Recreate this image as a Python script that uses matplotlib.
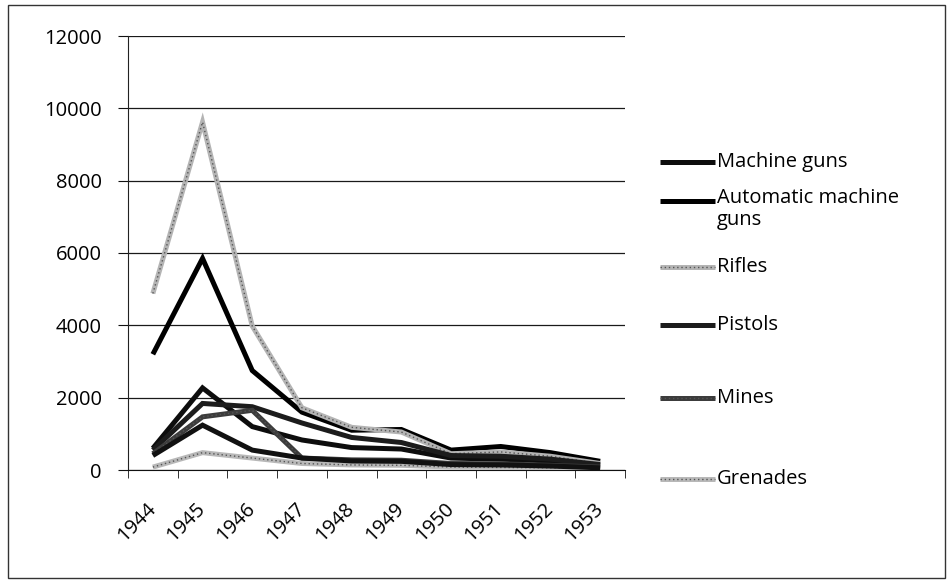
import numpy as np
import matplotlib.pyplot as plt
from matplotlib.lines import Line2D
from matplotlib.patches import Rectangle

# values
years = ['1944', '1945', '1946', '1947', '1948', '1949', '1950', '1951', '1952', '1953']
machine_guns = [600, 2270, 1200, 830, 620, 580, 330, 300, 250, 130]
automatic_mg = [3200, 5850, 2750, 1600, 1100, 1120, 550, 650, 480, 240]
rifles = [4880, 9620, 3980, 1720, 1180, 1050, 450, 500, 380, 180]
pistols = [550, 1840, 1750, 1300, 900, 760, 400, 380, 300, 150]
mines = [450, 1470, 1650, 330, 280, 270, 180, 170, 130, 80]
grenades = [80, 480, 330, 180, 140, 130, 80, 70, 60, 40]
# seventh series is drawn but has no legend entry in the original
unlabeled = [400, 1240, 550, 330, 250, 240, 150, 140, 110, 60]

legend_names = ['Machine guns', 'Automatic machine\nguns', 'Rifles', 'Pistols', 'Mines', 'Grenades']

plt.rcParams['font.family'] = ['Open Sans', 'DejaVu Sans']

W, H = 949, 582
fig = plt.figure(figsize=(W / 100, H / 100), dpi=100)
ax = fig.add_axes([128 / W, 1 - 470 / H, (625 - 128) / W, (470 - 36) / H])

x = np.arange(len(years))

# (values, base colour, overlay dots?)
styles = [
    (machine_guns, '#0d0d0d', False),
    (automatic_mg, '#000000', False),
    (rifles, '#b4b4b4', True),
    (pistols, '#1c1c1c', False),
    (mines, '#3c3c3c', True),
    (grenades, '#b8b8b8', True),
    (unlabeled, '#111111', False),
]

lw = 3.6
for vals, col, dots in styles:
    ax.plot(x, vals, color=col, lw=lw, solid_joinstyle='miter', solid_capstyle='butt', zorder=3)
    if dots:
        ax.plot(x, vals, color='#555555', lw=1.0, ls=(0, (1, 2)), zorder=3)

ax.set_xlim(-0.5, len(years) - 0.5)
ax.set_ylim(0, 12000)
ax.set_yticks(range(0, 12001, 2000))
ax.yaxis.grid(True, color='#1a1a1a', lw=0.9)
ax.set_axisbelow(True)

ax.set_xticks(x)
ax.set_xticklabels(years, rotation=45, ha='right', va='center', rotation_mode='anchor')
ax.set_xticks(np.arange(-0.5, len(years), 1), minor=True)
ax.tick_params(axis='x', which='major', length=0, pad=26, labelsize=14.5)
ax.tick_params(axis='x', which='minor', length=6, direction='out', color='#111111')
ax.tick_params(axis='y', length=7, direction='out', pad=12, labelsize=14.5, color='#111111')

for s in ['top', 'right']:
    ax.spines[s].set_visible(False)
ax.spines['left'].set_color('#222222')
ax.spines['bottom'].set_color('#111111')

# legend drawn by hand, Excel spacing is uneven
legend_y = [162, 201, 267, 325, 398, 479]
for i, (name, ypx) in enumerate(zip(legend_names, legend_y)):
    vals, col, dots = styles[i]
    yf = 1 - ypx / H
    fig.add_artist(Line2D([660 / W, 715 / W], [yf, yf], color=col, lw=lw, solid_capstyle='butt'))
    if dots:
        fig.add_artist(Line2D([660 / W, 715 / W], [yf, yf], color='#555555', lw=1.0, ls=(0, (1, 2))))
    if '\n' in name:
        fig.text(717 / W, 1 - (ypx - 13) / H, name, fontsize=14.5, va='top', ha='left', linespacing=1.15)
    else:
        fig.text(717 / W, yf, name, fontsize=14.5, va='center', ha='left')

# chart border
fig.add_artist(Rectangle((8 / W, 4 / H), (945 - 8) / W, (577 - 4) / H, transform=fig.transFigure,
                         fill=False, edgecolor='#333333', lw=1.0))

fig.savefig('out.png', dpi=100)
